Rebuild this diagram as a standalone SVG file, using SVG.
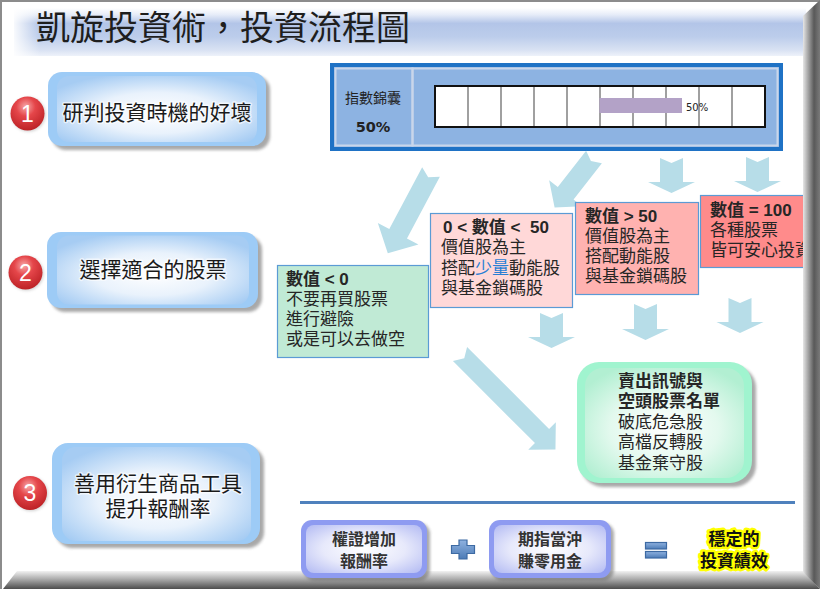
<svg xmlns="http://www.w3.org/2000/svg" width="820" height="589" viewBox="0 0 820 589">
<defs>
<style>
.cjk{font-family:"Liberation Sans","Noto Sans CJK TC","Noto Sans CJK SC",sans-serif;}
.arrow{fill:#b7dde8;}
.box{stroke:#5b9bd5;stroke-width:1.2;}
.bt{font-size:17px;fill:#262626;}
.b{font-weight:bold;}
.nodeT{font-size:21px;fill:#1a1a1a;text-anchor:middle;stroke:#ffffff;stroke-width:3;stroke-opacity:.6;paint-order:stroke;stroke-linejoin:round;}
.shadow{fill:#6f6f6f;opacity:.6;filter:url(#blur);}
.num{font-family:"Liberation Sans",Arial,sans-serif;font-size:23px;fill:#ffffff;text-anchor:middle;}
.pre{white-space:pre;}
.sm{font-size:16px;font-weight:bold;fill:#333;text-anchor:middle;}
.hl{font-size:17px;font-weight:bold;fill:#111;text-anchor:middle;stroke:#ffff00;stroke-width:5;paint-order:stroke;stroke-linejoin:round;}
</style>
<filter id="blur" x="-10%" y="-10%" width="130%" height="130%"><feGaussianBlur stdDeviation="1.5"/></filter>
<linearGradient id="banner" x1="0" y1="8" x2="0" y2="56" gradientUnits="userSpaceOnUse">
<stop offset="0" stop-color="#ffffff"/>
<stop offset="0.14" stop-color="#e6ecf8"/>
<stop offset="0.32" stop-color="#b3c5e8"/>
<stop offset="0.6" stop-color="#bccdeb"/>
<stop offset="0.88" stop-color="#d9e2f3"/>
<stop offset="1" stop-color="#eef2fa"/>
</linearGradient>
<linearGradient id="bannerFade" x1="14" y1="0" x2="40" y2="0" gradientUnits="userSpaceOnUse">
<stop offset="0" stop-color="#ffffff" stop-opacity="0.9"/>
<stop offset="1" stop-color="#ffffff" stop-opacity="0"/>
</linearGradient>
<linearGradient id="bevR" x1="803" y1="0" x2="820" y2="0" gradientUnits="userSpaceOnUse">
<stop offset="0" stop-color="#e6e6e6"/>
<stop offset="0.65" stop-color="#595959"/>
<stop offset="1" stop-color="#7a7a7a"/>
</linearGradient>
<linearGradient id="bevB" x1="0" y1="571" x2="0" y2="589" gradientUnits="userSpaceOnUse">
<stop offset="0" stop-color="#f2f2f2"/>
<stop offset="0.5" stop-color="#a3a3a3"/>
<stop offset="1" stop-color="#4d4d4d"/>
</linearGradient>
<radialGradient id="blueIn" cx="50%" cy="56%" r="62%">
<stop offset="0" stop-color="#ffffff"/>
<stop offset="0.5" stop-color="#e9f2fc"/>
<stop offset="1" stop-color="#a6ccf3"/>
</radialGradient>
<radialGradient id="greenIn" cx="50%" cy="55%" r="62%">
<stop offset="0" stop-color="#ffffff"/>
<stop offset="0.55" stop-color="#e3f9ee"/>
<stop offset="1" stop-color="#b2efd2"/>
</radialGradient>
<radialGradient id="lavIn" cx="50%" cy="50%" r="65%">
<stop offset="0" stop-color="#ffffff"/>
<stop offset="0.55" stop-color="#e7e9fb"/>
<stop offset="1" stop-color="#bac1f4"/>
</radialGradient>
<radialGradient id="red" cx="45%" cy="30%" r="70%">
<stop offset="0" stop-color="#f7a9a9"/>
<stop offset="0.4" stop-color="#e5464a"/>
<stop offset="1" stop-color="#bd2226"/>
</radialGradient>
<linearGradient id="sym" x1="0" y1="0" x2="0" y2="1">
<stop offset="0" stop-color="#8fb2e0"/>
<stop offset="1" stop-color="#4c7bb6"/>
</linearGradient>
</defs>

<rect x="0" y="0" width="820" height="589" fill="#ffffff"/>

<g id="title">
<rect x="14" y="8" width="792" height="48" fill="url(#banner)"/>
<rect x="14" y="8" width="26" height="48" fill="url(#bannerFade)"/>
<text x="36" y="40" font-family="Noto Sans CJK TC, Noto Sans CJK SC, sans-serif" font-size="34" fill="#1e1e1e">凱旋投資術，投資流程圖</text>
</g>

<g id="step1">
<rect x="52" y="76" width="218" height="74" rx="14" class="shadow"/>
<rect x="48" y="72" width="218" height="74" rx="14" fill="#9dcbf6"/>
<rect x="57" y="76" width="200" height="66" rx="12" fill="url(#blueIn)"/>
<text x="157" y="119.5" class="cjk nodeT">研判投資時機的好壞</text>
<circle cx="28.5" cy="114.5" r="17" fill="#7a7a7a" opacity=".35" filter="url(#blur)"/>
<circle cx="27.5" cy="113.5" r="17" fill="url(#red)"/>
<text x="27.5" y="121.5" class="num">1</text>
</g>

<g id="step2">
<rect x="51" y="236" width="211" height="76" rx="14" class="shadow"/>
<rect x="47" y="232" width="211" height="76" rx="14" fill="#9dcbf6"/>
<rect x="57" y="235.5" width="192" height="69" rx="12" fill="url(#blueIn)"/>
<text x="153" y="276.5" class="cjk nodeT">選擇適合的股票</text>
<circle cx="26.5" cy="273.5" r="17" fill="#7a7a7a" opacity=".35" filter="url(#blur)"/>
<circle cx="25.5" cy="272.5" r="17" fill="url(#red)"/>
<text x="25.5" y="280.5" class="num">2</text>
</g>

<g id="step3">
<rect x="56" y="447" width="208" height="101" rx="16" class="shadow"/>
<rect x="52" y="443" width="208" height="101" rx="16" fill="#9dcbf6"/>
<rect x="62" y="447" width="189" height="94" rx="14" fill="url(#blueIn)"/>
<text x="158" y="490.5" class="cjk nodeT">善用衍生商品工具</text>
<text x="158" y="515.5" class="cjk nodeT">提升報酬率</text>
<circle cx="31" cy="494" r="17" fill="#7a7a7a" opacity=".35" filter="url(#blur)"/>
<circle cx="30" cy="493" r="17" fill="url(#red)"/>
<text x="30" y="501" class="num">3</text>
</g>

<g id="index">
<rect x="332" y="65" width="449" height="84" fill="#8db3e2" stroke="#1f72c5" stroke-width="4"/>
<rect x="335.5" y="68.5" width="77" height="77" fill="none" stroke="#c9d6ea" stroke-width="2"/>
<rect x="412.5" y="68.5" width="365" height="77" fill="none" stroke="#c9d6ea" stroke-width="2"/>
<text x="373" y="103" class="cjk" font-size="14" fill="#222" text-anchor="middle">指數錦囊</text>
<text x="373" y="132" font-family="DejaVu Sans, sans-serif" font-size="14.5" font-weight="bold" fill="#222" text-anchor="middle">50%</text>
<rect x="435" y="86" width="330" height="41" fill="#ffffff"/>
<g stroke="#808080" stroke-width="1.5">
<line x1="468" y1="86" x2="468" y2="127"/>
<line x1="501" y1="86" x2="501" y2="127"/>
<line x1="534" y1="86" x2="534" y2="127"/>
<line x1="567" y1="86" x2="567" y2="127"/>
<line x1="600" y1="86" x2="600" y2="127"/>
<line x1="633" y1="86" x2="633" y2="127"/>
<line x1="666" y1="86" x2="666" y2="127"/>
<line x1="699" y1="86" x2="699" y2="127"/>
<line x1="732" y1="86" x2="732" y2="127"/>
</g>
<rect x="435" y="86" width="330" height="41" fill="none" stroke="#111" stroke-width="2"/>
<rect x="599.5" y="98" width="82.5" height="15" fill="#b3a2c7"/>
<text x="686" y="111" font-family="DejaVu Sans, sans-serif" font-size="10" fill="#222">50%</text>
</g>

<g id="connectors">
<path class="arrow" transform="translate(431,172) rotate(118)" d="M0,-10 L70,-10 L70,-23 L92,0 L70,23 L70,10 L0,10 L6,0 Z"/>
<path class="arrow" transform="translate(594,157) rotate(128)" d="M0,-10 L46,-10 L46,-21 L64,0 L46,21 L46,10 L0,10 L5,0 Z"/>
<path class="arrow" transform="translate(671.5,158) rotate(90)" d="M0,-11.5 L24,-11.5 L24,-23.5 L35,0 L24,23.5 L24,11.5 L0,11.5 L5,0 Z"/>
<path class="arrow" transform="translate(757.5,157) rotate(90)" d="M0,-11.5 L24,-11.5 L24,-23.5 L35,0 L24,23.5 L24,11.5 L0,11.5 L5,0 Z"/>
<path class="arrow" transform="translate(551.5,313) rotate(90)" d="M0,-11.5 L24,-11.5 L24,-23.5 L35,0 L24,23.5 L24,11.5 L0,11.5 L5,0 Z"/>
<path class="arrow" transform="translate(645.5,304) rotate(90)" d="M0,-11.5 L25,-11.5 L25,-23.5 L36,0 L25,23.5 L25,11.5 L0,11.5 L5,0 Z"/>
<path class="arrow" transform="translate(740,298) rotate(90)" d="M0,-11.5 L24,-11.5 L24,-23.5 L35,0 L24,23.5 L24,11.5 L0,11.5 L5,0 Z"/>
<path class="arrow" transform="translate(460,354) rotate(45)" d="M0,-10 L116,-10 L116,-19.5 L135,0 L116,19.5 L116,10 L0,10 L6,0 Z"/>
</g>

<g id="caseNeg">
<rect x="277.5" y="265.5" width="151" height="92" fill="#c0ead5" class="box"/>
<text x="286" y="285" class="cjk bt b">數值 &lt; 0</text>
<text x="286" y="305" class="cjk bt">不要再買股票</text>
<text x="286" y="325" class="cjk bt">進行避險</text>
<text x="286" y="345" class="cjk bt">或是可以去做空</text>
</g>

<g id="caseLow">
<rect x="430.5" y="213.5" width="142" height="94" fill="#ffd8d8" class="box"/>
<text x="443" y="233" class="cjk bt b pre">0 &lt; 數值 &lt;  50</text>
<text x="441" y="253" class="cjk bt">價值股為主</text>
<text x="441" y="273.5" class="cjk bt">搭配<tspan fill="#2a7fd4">少量</tspan>動能股</text>
<text x="441" y="294" class="cjk bt">與基金鎖碼股</text>
</g>

<g id="caseHigh">
<rect x="575.5" y="202.5" width="123" height="92" fill="#ffb2b0" class="box"/>
<text x="585" y="222" class="cjk bt b">數值 &gt; 50</text>
<text x="585" y="241.5" class="cjk bt">價值股為主</text>
<text x="585" y="261.5" class="cjk bt">搭配動能股</text>
<text x="585" y="282" class="cjk bt">與基金鎖碼股</text>
</g>

<g id="caseFull">
<rect x="700.5" y="195.5" width="112" height="72" fill="#ff8b8b" class="box"/>
<text x="710" y="216" class="cjk bt b">數值 = 100</text>
<text x="710" y="235.5" class="cjk bt">各種股票</text>
<text x="710" y="255.5" class="cjk bt">皆可安心投資</text>
</g>

<g id="sellList">
<rect x="581" y="366" width="175" height="121" rx="22" class="shadow"/>
<rect x="577" y="362" width="175" height="121" rx="22" fill="#a0f4cf"/>
<rect x="585" y="368" width="159" height="110" rx="18" fill="url(#greenIn)"/>
<text x="618" y="387" class="cjk bt b" fill="#111">賣出訊號與</text>
<text x="618" y="407" class="cjk bt b" fill="#111">空頭股票名單</text>
<text x="618" y="428" class="cjk bt">破底危急股</text>
<text x="618" y="448" class="cjk bt">高檔反轉股</text>
<text x="618" y="469" class="cjk bt">基金棄守股</text>
</g>

<line x1="300" y1="502.5" x2="795" y2="502.5" stroke="#4f81bd" stroke-width="3"/>

<polygon points="17,571 803,571 820,589 3,589" fill="url(#bevB)"/>

<g id="warrant">
<rect x="304" y="523" width="126" height="58" rx="11" class="shadow"/>
<rect x="301" y="520" width="126" height="58" rx="11" fill="#8e9bf1"/>
<rect x="306" y="525" width="116" height="48" rx="8" fill="url(#lavIn)"/>
<text x="364" y="545" class="cjk sm">權證增加</text>
<text x="364" y="567" class="cjk sm">報酬率</text>
</g>

<g id="plus">
<path d="M459,540 H467 V545.5 H474.5 V553.5 H467 V559 H459 V553.5 H451.5 V545.5 H459 Z" fill="url(#sym)" stroke="#3d6aa3" stroke-width="1.2"/>
</g>

<g id="futures">
<rect x="492" y="523" width="122" height="58" rx="11" class="shadow"/>
<rect x="489" y="520" width="122" height="58" rx="11" fill="#8e9bf1"/>
<rect x="494" y="525" width="112" height="48" rx="8" fill="url(#lavIn)"/>
<text x="550" y="545" class="cjk sm">期指當沖</text>
<text x="550" y="567" class="cjk sm">賺零用金</text>
</g>

<g id="equals">
<rect x="645.5" y="542.5" width="21" height="6.5" fill="url(#sym)" stroke="#3d6aa3" stroke-width="1.2"/>
<rect x="645.5" y="551.5" width="21" height="6.5" fill="url(#sym)" stroke="#3d6aa3" stroke-width="1.2"/>
</g>

<g id="result">
<text x="734" y="545" class="cjk hl">穩定的</text>
<text x="734" y="566.5" class="cjk hl">投資績效</text>
</g>

<g id="frame">
<line x1="0" y1="1" x2="820" y2="1" stroke="#8c8c8c" stroke-width="2"/>
<line x1="1" y1="0" x2="1" y2="589" stroke="#8c8c8c" stroke-width="2"/>
<polygon points="803,16 820,0 820,589 803,572" fill="url(#bevR)"/>
</g>
</svg>
